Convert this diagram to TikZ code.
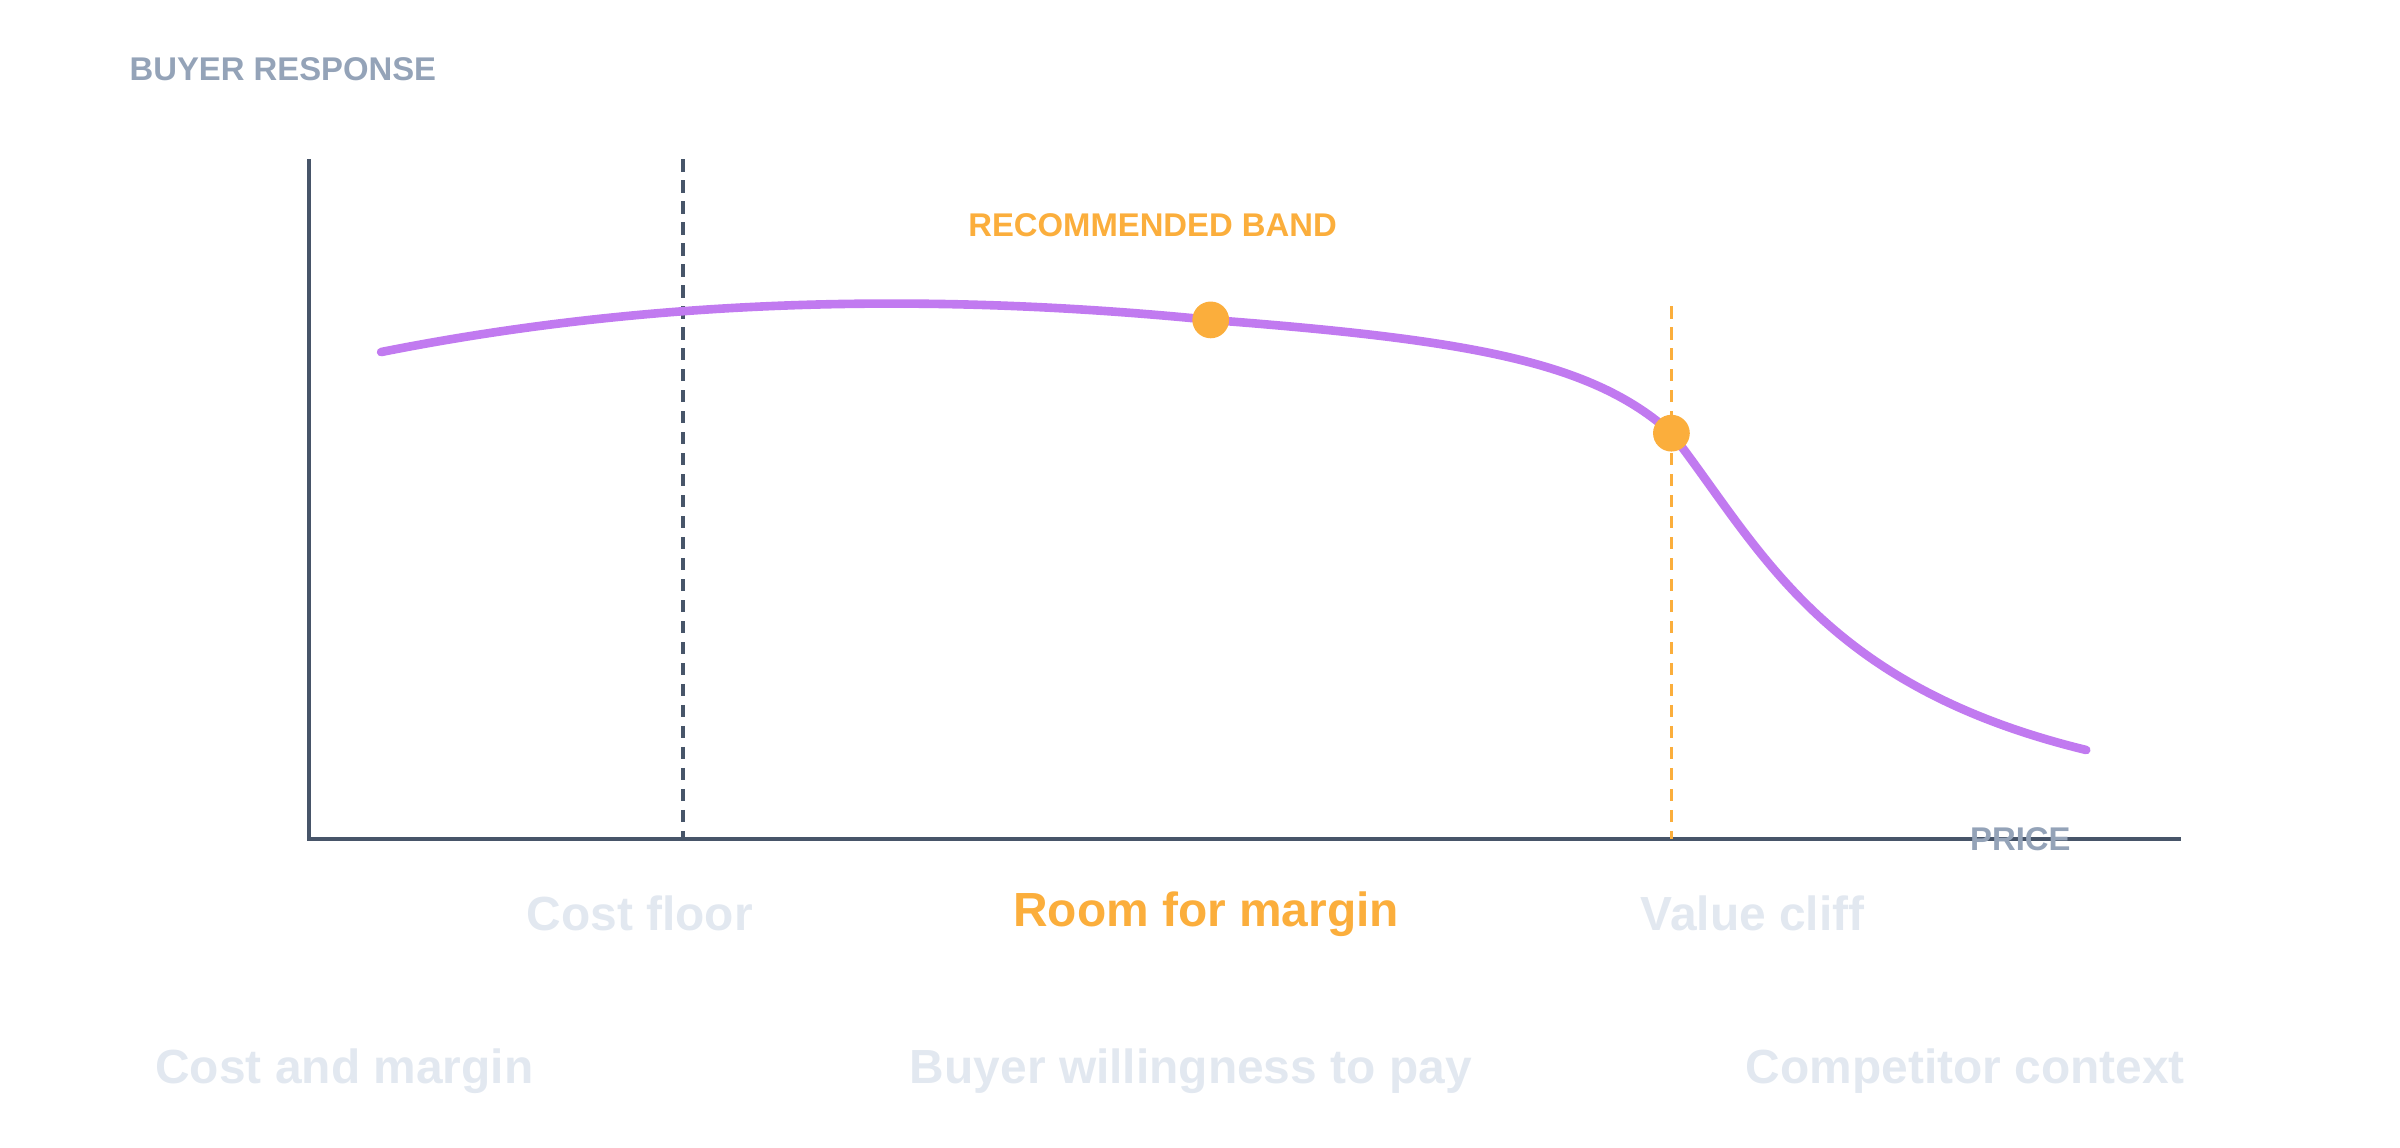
\documentclass[tikz,border=0pt]{standalone}
\usepackage{fontspec}
\setmainfont{Liberation Sans}
\usetikzlibrary{positioning}
\definecolor{axisgray}{HTML}{475569}
\definecolor{labelgray}{HTML}{94A3B8}
\definecolor{palegray}{HTML}{E2E8F0}
\definecolor{bandorange}{HTML}{FBAE3C}
\definecolor{curvepurple}{HTML}{C17AF0}
\begin{document}
\begin{tikzpicture}[x=0.01cm,y=0.01cm,
axislabel/.style={font=\fontsize{6.1}{8}\selectfont\bfseries, text=labelgray, inner sep=0pt},
zone/.style={font=\fontsize{8.9}{10}\selectfont\bfseries, text=palegray, inner sep=0pt},
dot/.style={circle, fill=bandorange, minimum size=0.24cm, inner sep=0pt},
]
\useasboundingbox (0,398) rectangle (1568,1148);

% axes
\coordinate (origin) at (202,600);
\coordinate (ytop) at (202,1044);
\coordinate (xend) at (1425,600);
\draw[axisgray, line width=0.7pt] (ytop) -- (origin) -- (xend);

% cost floor and value cliff markers
\draw[axisgray, line width=0.7pt, dash pattern=on 2.3pt off 1.6pt] (446,1044) -- (446,600);
\draw[bandorange, line width=0.7pt, dash pattern=on 2.3pt off 1.6pt] (1092,948) -- (1092,600);

% buyer response curve
\draw[curvepurple, line width=1.6pt, line cap=round]
  (249,918) .. controls (420,952) and (600,958) .. (791,939)
  .. controls (960,926) and (1040,912) .. (1092,865)
  .. controls (1150,790) and (1190,700) .. (1363,658);

\node[dot] (band) at (791,939) {};
\node[dot] (cliff) at (1092,865) {};

% labels
\node[axislabel, anchor=west] (ylabel) at (84,1103) {BUYER RESPONSE};
\node[axislabel, text=bandorange] (bandlabel) at (753,1001) {RECOMMENDED BAND};
\node[axislabel] (xlabel) at (1320,600) {PRICE};

\node[zone] (floor) at (418,551) {Cost floor};
\node[zone, text=bandorange] (margin) at (788,551) {Room for margin};
\node[zone] (valuecliff) at (1145,551) {Value cliff};

\node[zone] (costm) at (225,448) {Cost and margin};
\node[zone] (willing) at (778,448) {Buyer willingness to pay};
\node[zone] (comp) at (1284,448) {Competitor context};
\end{tikzpicture}
\end{document}
